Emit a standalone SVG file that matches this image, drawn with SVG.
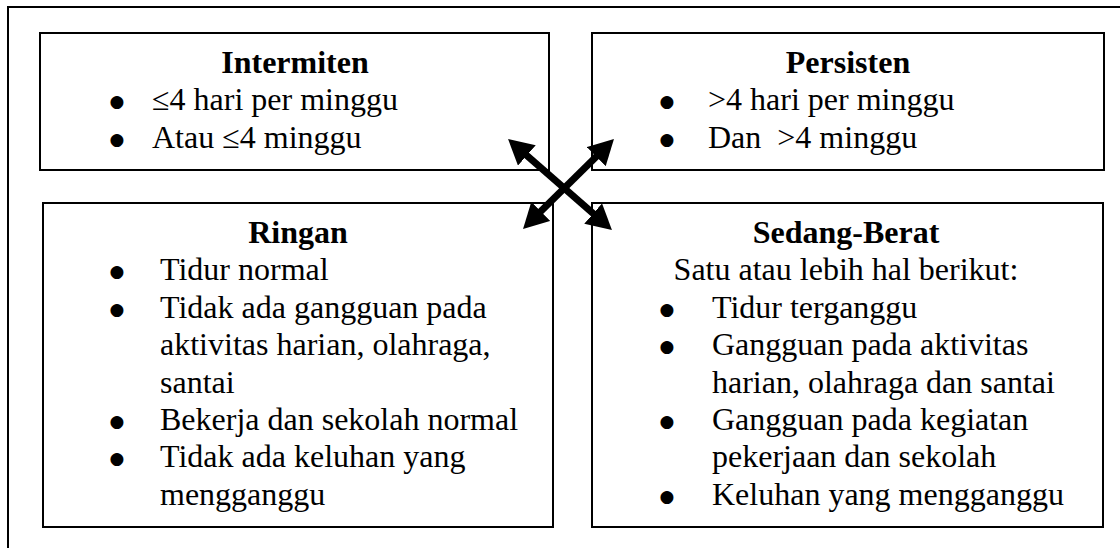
<svg xmlns="http://www.w3.org/2000/svg" width="1120" height="548" viewBox="0 0 1120 548">
<style>
.box{fill:#fff;stroke:#000;stroke-width:2}
text{font-family:"Liberation Serif","Times New Roman",serif;font-size:32px;fill:#000}
.t{font-weight:bold;text-anchor:middle}
.c{text-anchor:middle}
.b{text-anchor:middle;font-family:"DejaVu Sans",sans-serif;font-size:17px}
.arr{stroke:#000;stroke-width:7;fill:none;marker-start:url(#ah);marker-end:url(#ah)}
</style>
<defs>
<marker id="ah" viewBox="0 0 25 27" refX="1" refY="13.5" markerWidth="25" markerHeight="27" markerUnits="userSpaceOnUse" orient="auto-start-reverse">
<path d="M0,0 L25,13.5 L0,27 z" fill="#000"/>
</marker>
</defs>
<rect width="1120" height="548" fill="#fff"/>
<path d="M8,560 V7 H1130" fill="none" stroke="#000" stroke-width="2"/>
<g id="intermiten">
<rect class="box" x="40" y="33" width="509" height="137"/>
<text class="t" x="295" y="73">Intermiten</text>
<text class="b" x="117" y="107">●</text><text x="152" y="110">≤4 hari per minggu</text>
<text class="b" x="117" y="145">●</text><text x="152" y="148">Atau ≤4 minggu</text>
</g>
<g id="persisten">
<rect class="box" x="592" y="33" width="512" height="137"/>
<text class="t" x="848" y="73">Persisten</text>
<text class="b" x="667" y="107">●</text><text x="708" y="110">&gt;4 hari per minggu</text>
<text class="b" x="667" y="145">●</text><text x="708" y="148" xml:space="preserve">Dan  &gt;4 minggu</text>
</g>
<g id="ringan">
<rect class="box" x="43" y="203" width="510" height="324"/>
<text class="t" x="298" y="243">Ringan</text>
<text class="b" x="117" y="277">●</text><text x="160" y="280">Tidur normal</text>
<text class="b" x="117" y="315">●</text><text x="160" y="318">Tidak ada gangguan pada</text>
<text x="160" y="355">aktivitas harian, olahraga,</text>
<text x="160" y="393">santai</text>
<text class="b" x="117" y="427">●</text><text x="160" y="430">Bekerja dan sekolah normal</text>
<text class="b" x="117" y="464">●</text><text x="160" y="467">Tidak ada keluhan yang</text>
<text x="160" y="505">mengganggu</text>
</g>
<g id="sedang-berat">
<rect class="box" x="592" y="203" width="511" height="324"/>
<text class="t" x="846" y="243">Sedang-Berat</text>
<text class="c" x="846" y="280">Satu atau lebih hal berikut:</text>
<text class="b" x="667" y="315">●</text><text x="712" y="318">Tidur terganggu</text>
<text class="b" x="667" y="352">●</text><text x="712" y="355">Gangguan pada aktivitas</text>
<text x="712" y="393">harian, olahraga dan santai</text>
<text class="b" x="667" y="427">●</text><text x="712" y="430">Gangguan pada kegiatan</text>
<text x="712" y="467">pekerjaan dan sekolah</text>
<text class="b" x="667" y="502">●</text><text x="712" y="505">Keluhan yang mengganggu</text>
</g>
<g id="connectors">
<line class="arr" x1="526.1" y1="154.8" x2="593.9" y2="214.2"/>
<line class="arr" x1="596.9" y1="155.9" x2="540.1" y2="212.1"/>
</g>
</svg>
